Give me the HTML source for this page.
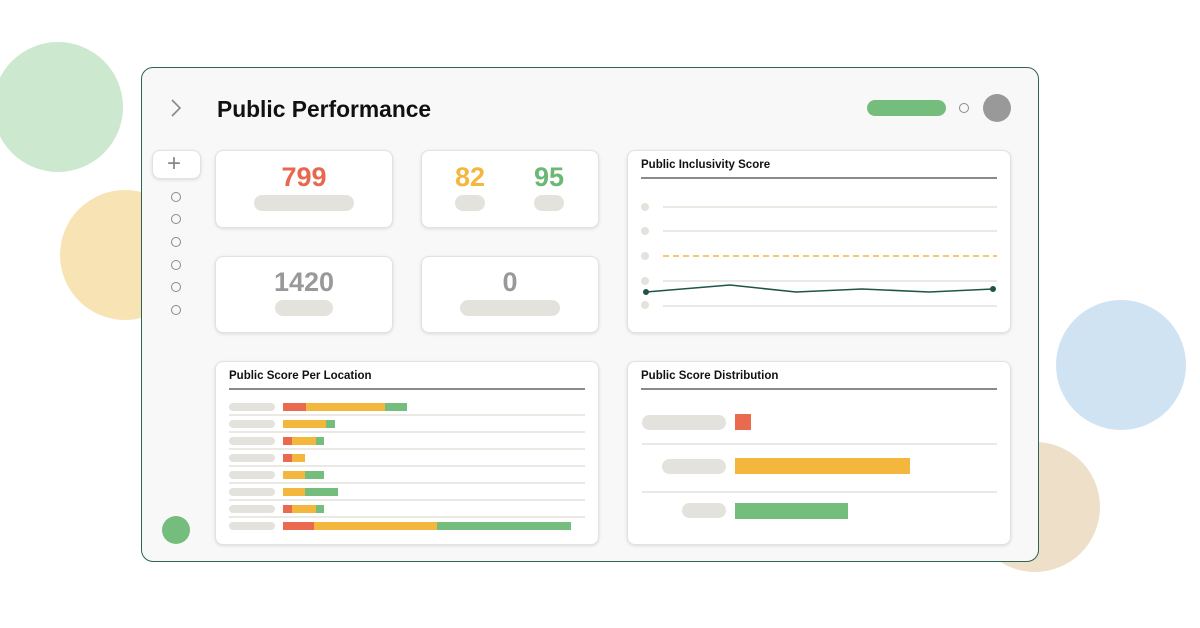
<!DOCTYPE html><html><head><style>
*{margin:0;padding:0;box-sizing:border-box}
body{width:1200px;height:628px;background:#fff;position:relative;overflow:hidden;font-family:"Liberation Sans",sans-serif}
.a{position:absolute}
.c{border-radius:50%;position:absolute}
.card{position:absolute;background:#fff;border:1px solid #e2e2e2;border-radius:8px;box-shadow:0 1px 3px rgba(0,0,0,.12)}
.pill{position:absolute;background:#e3e2dc;border-radius:8px}
.num{position:absolute;font-weight:bold;font-size:27px;text-align:center}
.t{position:absolute;font-weight:bold;font-size:11.5px;color:#111}
.hl{position:absolute;height:2px;background:#8a8a8a}
.o{position:absolute;width:10px;height:10px;border:1.5px solid #8a8a8a;border-radius:50%}
</style></head><body>
<div class="c" style="left:-7px;top:42px;width:130px;height:130px;background:#cce8cf"></div>
<div class="c" style="left:60px;top:190px;width:130px;height:130px;background:#f8e3b5"></div>
<div class="c" style="left:1056px;top:300px;width:130px;height:130px;background:#d0e3f3"></div>
<div class="c" style="left:970px;top:442px;width:130px;height:130px;background:#eee0c8"></div>
<div class="a" style="left:141px;top:67px;width:898px;height:495px;background:#f8f8f8;border:1.5px solid #2f6352;border-radius:12px"></div>
<svg class="a" style="left:168px;top:97px" width="16" height="22"><path d="M4 3 L12 11 L4 19" fill="none" stroke="#888" stroke-width="1.6"/></svg>
<div class="a" style="left:217px;top:96px;font-size:22.8px;font-weight:bold;color:#111">Public Performance</div>
<div class="a" style="left:867px;top:100px;width:79px;height:16px;background:#75bd7c;border-radius:8px"></div>
<div class="o" style="left:959px;top:103px"></div>
<div class="c" style="left:983px;top:94px;width:28px;height:28px;background:#999"></div>
<div class="card" style="left:152px;top:150px;width:49px;height:29px"></div>
<div class="a" style="left:167px;top:150px;font-size:24px;color:#888;line-height:28px">+</div>
<div class="o" style="left:171px;top:192px"></div><div class="o" style="left:171px;top:214px"></div><div class="o" style="left:171px;top:237px"></div><div class="o" style="left:171px;top:260px"></div><div class="o" style="left:171px;top:282px"></div><div class="o" style="left:171px;top:305px"></div>
<div class="c" style="left:162px;top:516px;width:28px;height:28px;background:#75bd7c"></div>

<div class="card" style="left:215px;top:150px;width:178px;height:78px"></div>
<div class="num" style="left:215px;top:162px;width:178px;color:#e8674f">799</div>
<div class="pill" style="left:254px;top:195px;width:100px;height:16px"></div>
<div class="card" style="left:421px;top:150px;width:178px;height:78px"></div>
<div class="num" style="left:440px;top:162px;width:60px;color:#f4b73e">82</div>
<div class="num" style="left:519px;top:162px;width:60px;color:#6ab874">95</div>
<div class="pill" style="left:455px;top:195px;width:30px;height:16px"></div>
<div class="pill" style="left:534px;top:195px;width:30px;height:16px"></div>
<div class="card" style="left:215px;top:256px;width:178px;height:77px"></div>
<div class="num" style="left:215px;top:267px;width:178px;color:#999">1420</div>
<div class="pill" style="left:275px;top:300px;width:58px;height:16px"></div>
<div class="card" style="left:421px;top:256px;width:178px;height:77px"></div>
<div class="num" style="left:421px;top:267px;width:178px;color:#999">0</div>
<div class="pill" style="left:460px;top:300px;width:100px;height:16px"></div>

<div class="card" style="left:627px;top:150px;width:384px;height:183px"></div>
<div class="t" style="left:641px;top:159px">Public Inclusivity Score</div>
<div class="hl" style="left:641px;top:177px;width:356px"></div>
<svg class="a" style="left:627px;top:150px" width="384" height="183">
<g fill="#e3e2dc"><circle cx="18" cy="57" r="4"/><circle cx="18" cy="81" r="4"/><circle cx="18" cy="106" r="4"/><circle cx="18" cy="131" r="4"/><circle cx="18" cy="155" r="4"/></g>
<g stroke="#e3e2dc" stroke-width="1.5"><line x1="36" y1="57" x2="370" y2="57"/><line x1="36" y1="81" x2="370" y2="81"/><line x1="36" y1="131" x2="370" y2="131"/><line x1="36" y1="156" x2="370" y2="156"/></g>
<line x1="36" y1="106" x2="370" y2="106" stroke="#f4b73e" stroke-width="1.6" stroke-dasharray="6,4"/>
<polyline points="19,142 103,135 169,142 235,139 302,142 366,139" fill="none" stroke="#1f5446" stroke-width="1.6"/>
<circle cx="19" cy="142" r="3" fill="#1f5446"/><circle cx="366" cy="139" r="3" fill="#1f5446"/>
</svg>

<div class="card" style="left:215px;top:361px;width:384px;height:184px"></div>
<div class="t" style="left:229px;top:370px">Public Score Per Location</div>
<div class="hl" style="left:229px;top:388px;width:356px"></div>
<svg class="a" style="left:215px;top:361px" width="384" height="184">
<g stroke="#e3e2dc" stroke-width="1.5"><line x1="14" y1="54" x2="370" y2="54"/><line x1="14" y1="71" x2="370" y2="71"/><line x1="14" y1="88" x2="370" y2="88"/><line x1="14" y1="105" x2="370" y2="105"/><line x1="14" y1="122" x2="370" y2="122"/><line x1="14" y1="139" x2="370" y2="139"/><line x1="14" y1="156" x2="370" y2="156"/></g>
<g fill="#e3e2dc">
<rect x="14" y="42" width="46" height="8" rx="4"/><rect x="14" y="59" width="46" height="8" rx="4"/><rect x="14" y="76" width="46" height="8" rx="4"/><rect x="14" y="93" width="46" height="8" rx="4"/><rect x="14" y="110" width="46" height="8" rx="4"/><rect x="14" y="127" width="46" height="8" rx="4"/><rect x="14" y="144" width="46" height="8" rx="4"/><rect x="14" y="161" width="46" height="8" rx="4"/></g>
<g>
<rect x="68" y="42" width="23" height="8" fill="#ea6a50"/><rect x="91" y="42" width="79" height="8" fill="#f4b73e"/><rect x="170" y="42" width="22" height="8" fill="#75bd7c"/>
<rect x="68" y="59" width="43" height="8" fill="#f4b73e"/><rect x="111" y="59" width="9" height="8" fill="#75bd7c"/>
<rect x="68" y="76" width="9" height="8" fill="#ea6a50"/><rect x="77" y="76" width="24" height="8" fill="#f4b73e"/><rect x="101" y="76" width="8" height="8" fill="#75bd7c"/>
<rect x="68" y="93" width="9" height="8" fill="#ea6a50"/><rect x="77" y="93" width="13" height="8" fill="#f4b73e"/>
<rect x="68" y="110" width="22" height="8" fill="#f4b73e"/><rect x="90" y="110" width="19" height="8" fill="#75bd7c"/>
<rect x="68" y="127" width="22" height="8" fill="#f4b73e"/><rect x="90" y="127" width="33" height="8" fill="#75bd7c"/>
<rect x="68" y="144" width="9" height="8" fill="#ea6a50"/><rect x="77" y="144" width="24" height="8" fill="#f4b73e"/><rect x="101" y="144" width="8" height="8" fill="#75bd7c"/>
<rect x="68" y="161" width="31" height="8" fill="#ea6a50"/><rect x="99" y="161" width="123" height="8" fill="#f4b73e"/><rect x="222" y="161" width="134" height="8" fill="#75bd7c"/>
</g></svg>

<div class="card" style="left:627px;top:361px;width:384px;height:184px"></div>
<div class="t" style="left:641px;top:370px">Public Score Distribution</div>
<div class="hl" style="left:641px;top:388px;width:356px"></div>
<svg class="a" style="left:627px;top:361px" width="384" height="184">
<g stroke="#e3e2dc" stroke-width="1.5"><line x1="15" y1="83" x2="370" y2="83"/><line x1="15" y1="131" x2="370" y2="131"/></g>
<g fill="#e3e2dc"><rect x="15" y="54" width="84" height="15" rx="7.5"/><rect x="35" y="98" width="64" height="15" rx="7.5"/><rect x="55" y="142" width="44" height="15" rx="7.5"/></g>
<rect x="108" y="53" width="16" height="16" fill="#ea6a50"/>
<rect x="108" y="97" width="175" height="16" fill="#f4b73e"/>
<rect x="108" y="142" width="113" height="16" fill="#75bd7c"/>
</svg>
</body></html>
